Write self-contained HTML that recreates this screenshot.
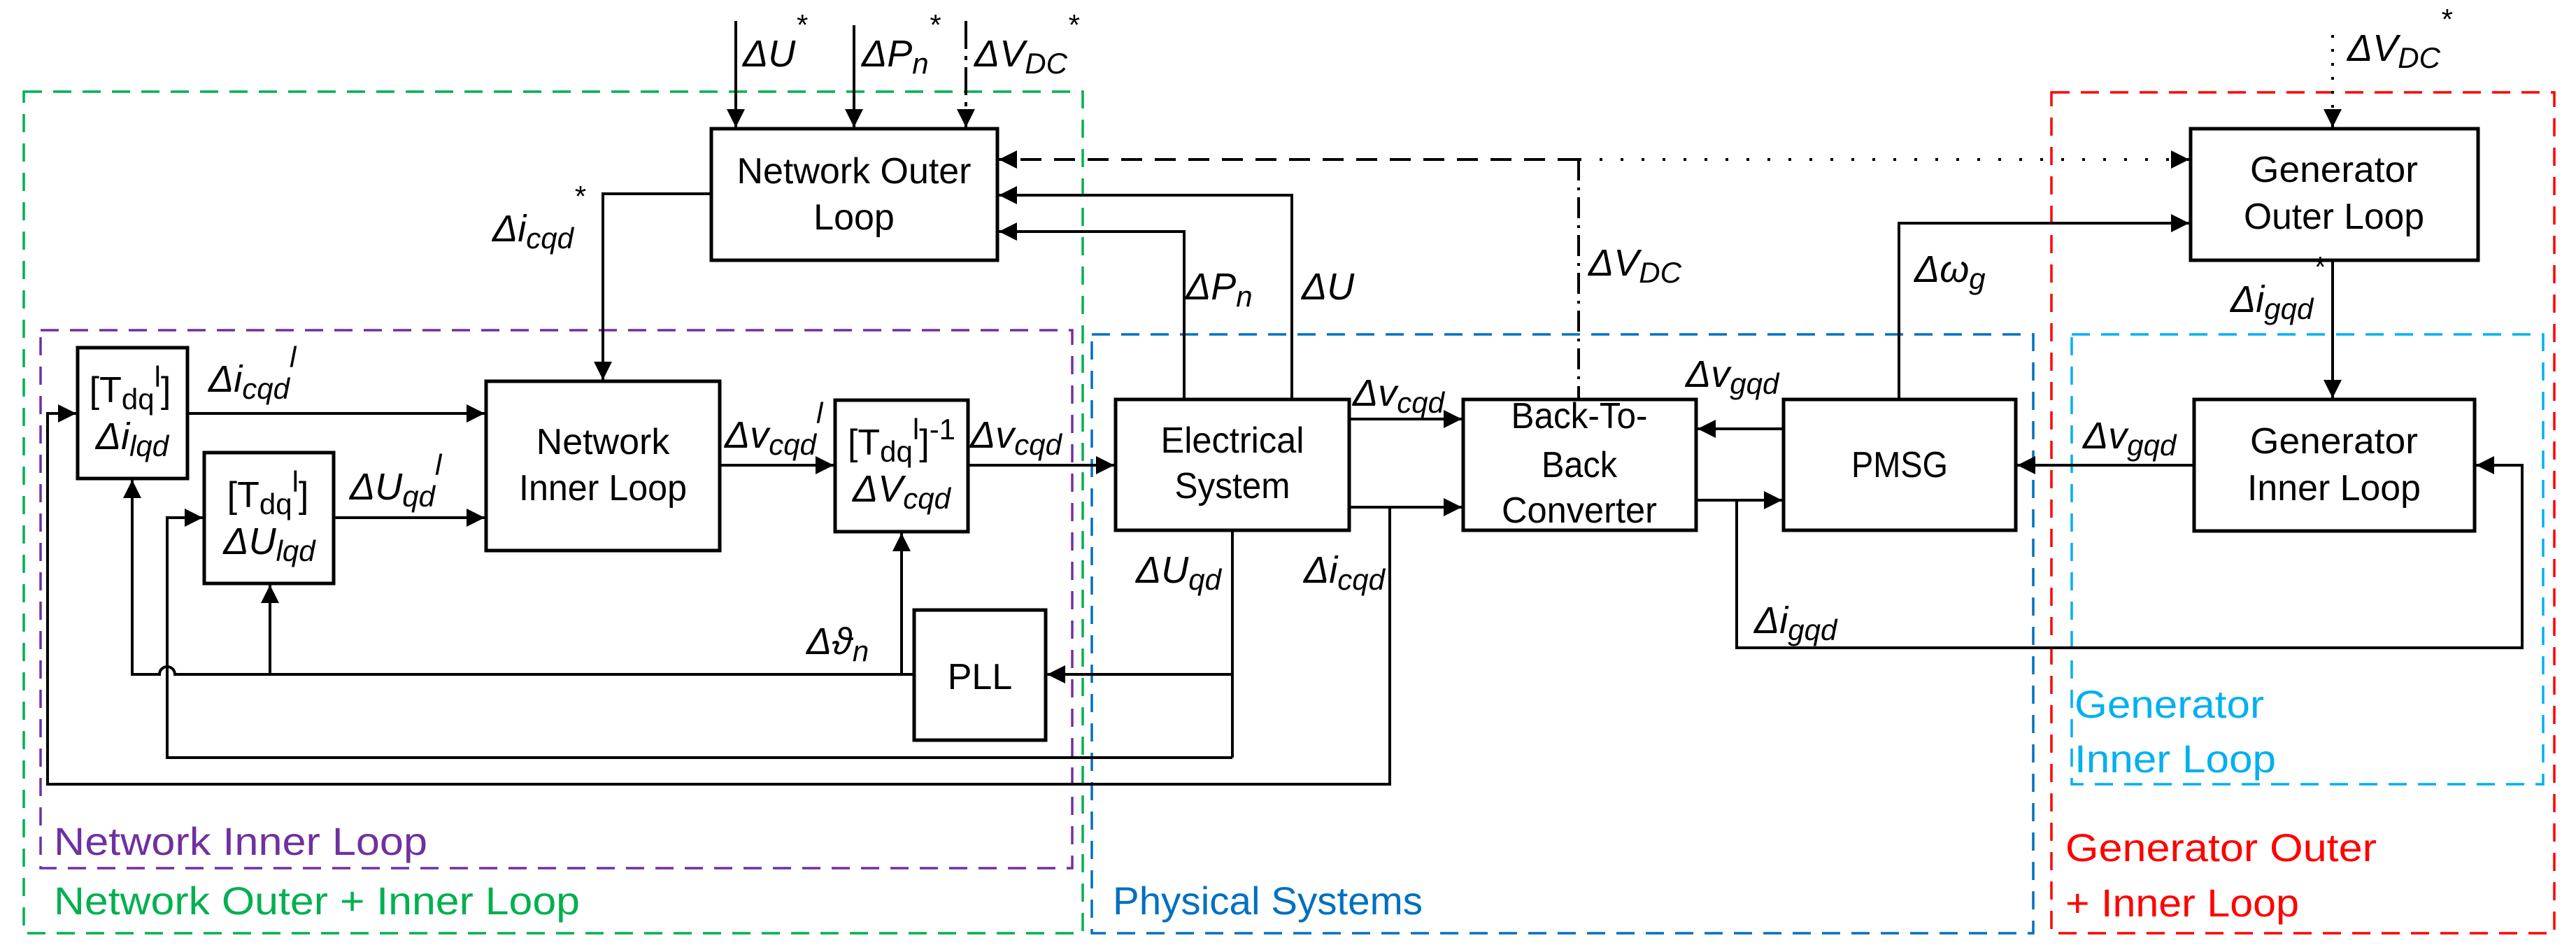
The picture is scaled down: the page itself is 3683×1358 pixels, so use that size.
<!DOCTYPE html>
<html><head><meta charset="utf-8"><style>
html,body{margin:0;padding:0;background:#fff;}
svg{display:block;}
.b{font-family:"Liberation Sans",sans-serif;font-size:52px;fill:#000;}
.m{font-family:"Liberation Sans",sans-serif;font-size:54px;font-style:italic;fill:#000;}
.s{font-size:42px;}
.g{font-family:"Liberation Sans",sans-serif;font-size:56px;}
</style></head><body>
<svg width="3683" height="1358" viewBox="0 0 3683 1358" xmlns="http://www.w3.org/2000/svg">
<defs>
<marker id="a" markerUnits="userSpaceOnUse" markerWidth="28" markerHeight="26" refX="26" refY="13" orient="auto">
<path d="M0,0 L26,13 L0,26 Z" fill="#000"/></marker>
</defs>
<rect width="3683" height="1358" fill="#fff"/>
<g fill="none" stroke-width="3.5" stroke-dasharray="26 16">
<rect x="34" y="131" width="1514" height="1203" stroke="#00B050"/>
<rect x="58" y="472" width="1475" height="769" stroke="#7030A0"/>
<rect x="1561" y="478" width="1346" height="856" stroke="#0070C0"/>
<rect x="2933" y="132" width="719" height="1202" stroke="#FF0000"/>
<rect x="2962" y="478" width="674" height="643" stroke="#00B0F0"/>
</g>
<g fill="#fff" stroke="#000" stroke-width="5">
<rect x="1017" y="184" width="409" height="188"/>
<rect x="695" y="545" width="334" height="242"/>
<rect x="111" y="497" width="157" height="187"/>
<rect x="292" y="647" width="185" height="187"/>
<rect x="1194" y="572" width="190" height="188"/>
<rect x="1307" y="872" width="188" height="186"/>
<rect x="1595" y="571" width="334" height="187"/>
<rect x="2092" y="571" width="333" height="187"/>
<rect x="2550" y="571" width="332" height="187"/>
<rect x="3132" y="184" width="411" height="188"/>
<rect x="3137" y="571" width="401" height="188"/>
</g>
<g fill="none" stroke="#000" stroke-width="4">
<line x1="1052" y1="30" x2="1052" y2="182" marker-end="url(#a)"/>
<line x1="1221" y1="36" x2="1221" y2="182" marker-end="url(#a)"/>
<line x1="1381" y1="30" x2="1381" y2="182" stroke-dasharray="40 10 6 10" marker-end="url(#a)"/>
<polyline points="1017,277 862,277 862,543" marker-end="url(#a)"/>
<line x1="268" y1="591" x2="693" y2="591" marker-end="url(#a)"/>
<line x1="477" y1="740" x2="693" y2="740" marker-end="url(#a)"/>
<line x1="1029" y1="665" x2="1192" y2="665" marker-end="url(#a)"/>
<line x1="1384" y1="665" x2="1593" y2="665" marker-end="url(#a)"/>
<polyline points="1693,571 1693,331 1428,331" marker-end="url(#a)"/>
<polyline points="1847,571 1847,279 1428,279" marker-end="url(#a)"/>
<line x1="2257" y1="228" x2="1428" y2="228" stroke-dasharray="30 18" marker-end="url(#a)"/>
<line x1="2257" y1="228" x2="3130" y2="228" stroke-dasharray="4 26" marker-end="url(#a)"/>
<line x1="2257" y1="228" x2="2257" y2="571" stroke-dasharray="30 10 4 10"/>
<line x1="1929" y1="599" x2="2090" y2="599" marker-end="url(#a)"/>
<line x1="1929" y1="725" x2="2090" y2="725" marker-end="url(#a)"/>
<line x1="2550" y1="613" x2="2427" y2="613" marker-end="url(#a)"/>
<line x1="2425" y1="715" x2="2548" y2="715" marker-end="url(#a)"/>
<polyline points="2715,571 2715,319 3130,319" marker-end="url(#a)"/>
<line x1="3335" y1="50" x2="3335" y2="160" stroke-dasharray="4 16"/>
<line x1="3335" y1="160" x2="3335" y2="182" marker-end="url(#a)"/>
<line x1="3335" y1="372" x2="3335" y2="569" marker-end="url(#a)"/>
<line x1="3137" y1="665" x2="2884" y2="665" marker-end="url(#a)"/>
<polyline points="2483,715 2483,926 3606,926 3606,665 3540,665" marker-end="url(#a)"/>
<line x1="1762" y1="758" x2="1762" y2="1083"/>
<line x1="1762" y1="964" x2="1497" y2="964" marker-end="url(#a)"/>
<polyline points="1762,1083 239,1083 239,740 290,740" marker-end="url(#a)"/>
<polyline points="1987,725 1987,1121 68,1121 68,591 109,591" marker-end="url(#a)"/>
<path d="M1307,964 L250,964 A11,11 0 0 0 228,964 L189,964 L189,686" marker-end="url(#a)"/>
<line x1="386" y1="964" x2="386" y2="836" marker-end="url(#a)"/>
<line x1="1289" y1="964" x2="1289" y2="762" marker-end="url(#a)"/>
</g>
<g class="b" text-anchor="middle">
<text x="1221" y="262" textLength="335" lengthAdjust="spacingAndGlyphs">Network Outer</text>
<text x="1221" y="328">Loop</text>
<text x="862" y="649">Network</text>
<text x="862" y="715" textLength="240" lengthAdjust="spacingAndGlyphs">Inner Loop</text>
<text x="1762" y="647" textLength="205" lengthAdjust="spacingAndGlyphs">Electrical</text>
<text x="1762" y="712" textLength="165" lengthAdjust="spacingAndGlyphs">System</text>
<text x="2258" y="612" textLength="195" lengthAdjust="spacingAndGlyphs">Back-To-</text>
<text x="2258" y="682" textLength="108" lengthAdjust="spacingAndGlyphs">Back</text>
<text x="2258" y="747" textLength="222" lengthAdjust="spacingAndGlyphs">Converter</text>
<text x="2716" y="682" textLength="138" lengthAdjust="spacingAndGlyphs">PMSG</text>
<text x="3337" y="260" textLength="240" lengthAdjust="spacingAndGlyphs">Generator</text>
<text x="3337" y="327" textLength="258" lengthAdjust="spacingAndGlyphs">Outer Loop</text>
<text x="3337" y="648" textLength="240" lengthAdjust="spacingAndGlyphs">Generator</text>
<text x="3337" y="715" textLength="248" lengthAdjust="spacingAndGlyphs">Inner Loop</text>
<text x="1401" y="985">PLL</text>
<text x="186" y="575">[T<tspan class="s" dy="10">dq</tspan><tspan class="s" dy="-32">l</tspan><tspan dy="22">]</tspan></text>
<text x="383" y="725">[T<tspan class="s" dy="10">dq</tspan><tspan class="s" dy="-32">l</tspan><tspan dy="22">]</tspan></text>
<text x="1289" y="650">[T<tspan class="s" dy="10">dq</tspan><tspan class="s" dy="-32">l</tspan><tspan dy="22">]</tspan><tspan class="s" dy="-22">-1</tspan></text>
</g>
<g class="m" text-anchor="middle">
<text x="189" y="642">Δi<tspan class="s" dy="10">lqd</tspan></text>
<text x="385" y="792">ΔU<tspan class="s" dy="10">lqd</tspan></text>
<text x="1289" y="717">ΔV<tspan class="s" dy="10">cqd</tspan></text>
</g>
<g class="m">
<text x="1062" y="95">ΔU<tspan class="s" dy="-45">*</tspan></text>
<text x="1232" y="95">ΔP<tspan class="s" dy="10">n</tspan><tspan class="s" dy="-55">*</tspan></text>
<text x="1393" y="95">ΔV<tspan class="s" dy="10">DC</tspan><tspan class="s" dy="-55">*</tspan></text>
<text x="704" y="345">Δi<tspan class="s" dy="10">cqd</tspan><tspan class="s" dy="-60">*</tspan></text>
<text x="298" y="560">Δi<tspan class="s" dy="10">cqd</tspan><tspan class="s" dy="-45">l</tspan></text>
<text x="500" y="714">ΔU<tspan class="s" dy="10">qd</tspan><tspan class="s" dy="-45">l</tspan></text>
<text x="1036" y="640">Δv<tspan class="s" dy="10">cqd</tspan><tspan class="s" dy="-45">l</tspan></text>
<text x="1387" y="640">Δv<tspan class="s" dy="10">cqd</tspan></text>
<text x="1153" y="935">Δϑ<tspan class="s" dy="10">n</tspan></text>
<text x="1695" y="428">ΔP<tspan class="s" dy="10">n</tspan></text>
<text x="1861" y="428">ΔU</text>
<text x="2271" y="394">ΔV<tspan class="s" dy="10">DC</tspan></text>
<text x="2737" y="403">Δω<tspan class="s" dy="10">g</tspan></text>
<text x="3189" y="446">Δi<tspan class="s" dy="10">gqd</tspan><tspan class="s" dy="-60">*</tspan></text>
<text x="1934" y="580">Δv<tspan class="s" dy="10">cqd</tspan></text>
<text x="2410" y="553">Δv<tspan class="s" dy="10">gqd</tspan></text>
<text x="2978" y="641">Δv<tspan class="s" dy="10">gqd</tspan></text>
<text x="1624" y="833">ΔU<tspan class="s" dy="10">qd</tspan></text>
<text x="1864" y="833">Δi<tspan class="s" dy="10">cqd</tspan></text>
<text x="2508" y="905">Δi<tspan class="s" dy="10">gqd</tspan></text>
<text x="3356" y="87">ΔV<tspan class="s" dy="10">DC</tspan><tspan class="s" dy="-55">*</tspan></text>
</g>
<g class="g">
<text x="77" y="1222" fill="#7030A0" textLength="534" lengthAdjust="spacingAndGlyphs">Network Inner Loop</text>
<text x="77" y="1307" fill="#00B050" textLength="752" lengthAdjust="spacingAndGlyphs">Network Outer + Inner Loop</text>
<text x="1591" y="1307" fill="#0070C0" textLength="443" lengthAdjust="spacingAndGlyphs">Physical Systems</text>
<text x="2966" y="1026" fill="#00B0F0" textLength="271" lengthAdjust="spacingAndGlyphs">Generator</text>
<text x="2966" y="1104" fill="#00B0F0" textLength="288" lengthAdjust="spacingAndGlyphs">Inner Loop</text>
<text x="2953" y="1231" fill="#FF0000" textLength="445" lengthAdjust="spacingAndGlyphs">Generator Outer</text>
<text x="2953" y="1310" fill="#FF0000" textLength="334" lengthAdjust="spacingAndGlyphs">+ Inner Loop</text>
</g>
</svg>
</body></html>
